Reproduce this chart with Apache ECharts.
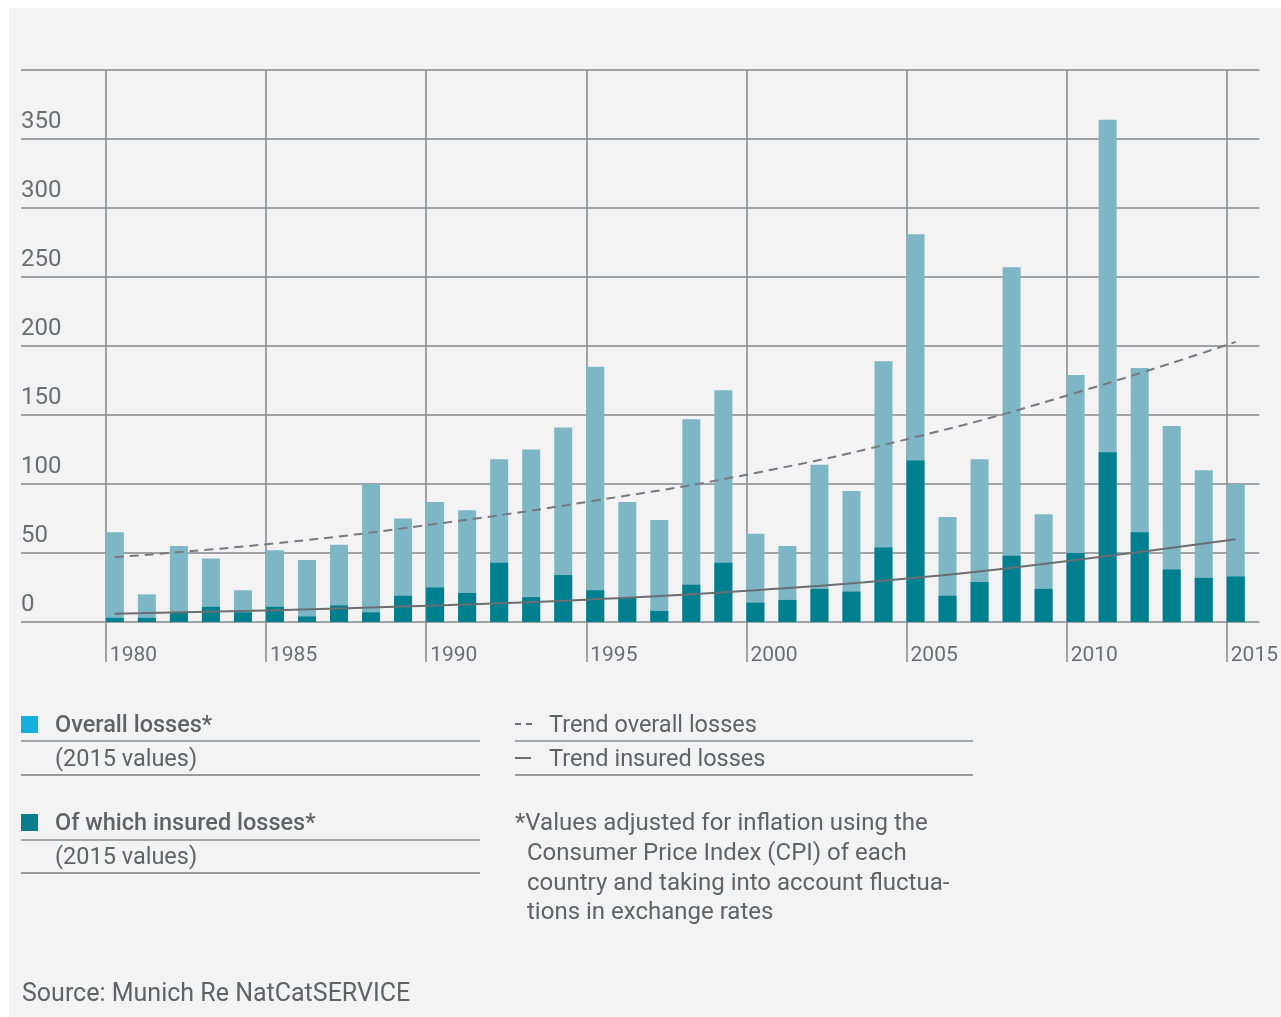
<!DOCTYPE html>
<html>
<head>
<meta charset="utf-8">
<script src="https://cdn.jsdelivr.net/npm/echarts@6/dist/echarts.min.js"></script>
<style>
html,body{margin:0;padding:0;background:#ffffff;width:1281px;height:1017px;overflow:hidden}
#chart{position:absolute;left:9px;top:8px;width:1272px;height:1009px;background:#f3f3f3}
</style>
</head>
<body>
<div id="chart"></div>
<script>
// ---- data, US$ bn ----
const years = [1980,1981,1982,1983,1984,1985,1986,1987,1988,1989,
               1990,1991,1992,1993,1994,1995,1996,1997,1998,1999,
               2000,2001,2002,2003,2004,2005,2006,2007,2008,2009,
               2010,2011,2012,2013,2014,2015];
const overallLosses = [65,20,55,46,23,52,45,56,100,75,
                       87,81,118,125,141,185,87,74,147,168,
                       64,55,114,95,189,281,76,118,257,78,
                       179,364,184,142,110,100];
const insuredLosses = [3,3,7,11,7,11,4,12,7,19,
                       25,21,43,18,34,23,18,8,27,43,
                       14,16,24,22,54,117,19,29,48,24,
                       50,123,65,38,32,33];
const trendYears = [1980,1985,1990,1995,2000,2005,2010,2015];
const trendOverall = [47,57,71,88,108,134,166,203];
const trendInsured = [6,8.5,12,16.5,23,32,45,60];
const yTickValues = [0,50,100,150,200,250,300,350,400];
const xTickYears = [1980,1985,1990,1995,2000,2005,2010,2015];

const legendTexts = {
  overall: 'Overall losses*',
  insured: 'Of which insured losses*',
  values: '(2015 values)',
  trendOverall: 'Trend overall losses',
  trendInsured: 'Trend insured losses',
  note: ['*Values adjusted for inflation using the',
         'Consumer Price Index (CPI) of each',
         'country and taking into account fluctua-',
         'tions in exchange rates'],
  source: 'Source: Munich Re NatCatSERVICE'
};

// ---- styling ----
const FONT = 'Roboto';
const gridColor = '#85888c';
const textColor = '#6b6e72';
const lightBar = '#7db7c5';
const darkBar = '#007f8f';

const chart = echarts.init(document.getElementById('chart'), null, {renderer: 'canvas'});

// axis B (visible years) and bar axis shifted by 0.28 year (bars start at the year line)
const xMinB = 1977.35, xMaxB = 2016.02, shift = 0.28;

function txt(x, y, text, opts) {
  return {
    type: 'text', x: x, y: y, silent: true,
    style: Object.assign({
      text: text, fontFamily: FONT, fontSize: 23.5, fill: '#5f6367',
      verticalAlign: 'middle', align: 'left'
    }, opts || {})
  };
}
function hline(x1, x2, y, color, w) {
  return {type: 'line', silent: true, shape: {x1: x1, y1: y, x2: x2, y2: y},
          style: {stroke: color, lineWidth: w}};
}

const graphics = [
  {type: 'rect', shape: {x: 12, y: 708, width: 17, height: 17}, style: {fill: '#16b0e0'}},
  txt(46, 718, legendTexts.overall, {fontWeight: 500}),
  hline(12, 471, 733, '#a4a7aa', 2),
  txt(46, 752, legendTexts.values),
  hline(12, 471, 767, '#7a7d81', 1.5),
  {type: 'rect', shape: {x: 12, y: 806, width: 17, height: 17}, style: {fill: '#0a7d8c'}},
  txt(46, 816, legendTexts.insured, {fontWeight: 500}),
  hline(12, 471, 832, '#a4a7aa', 2),
  txt(46, 850, legendTexts.values),
  hline(12, 471, 865, '#7a7d81', 1.5),
  hline(506, 512, 716, '#6b6e72', 2),
  hline(517, 523, 716, '#6b6e72', 2),
  txt(540, 718, legendTexts.trendOverall),
  hline(506, 964, 733, '#a4a7aa', 2),
  hline(506, 522, 750, '#6b6e72', 2),
  txt(540, 752, legendTexts.trendInsured),
  hline(506, 964, 767, '#7a7d81', 1.5),
  txt(506, 816, legendTexts.note[0], {fontSize: 24}),
  txt(518, 846, legendTexts.note[1], {fontSize: 24}),
  txt(518, 876, legendTexts.note[2], {fontSize: 24}),
  txt(518, 905, legendTexts.note[3], {fontSize: 24}),
  txt(13, 987, legendTexts.source, {fontSize: 25})
];

const option = {
  animation: false,
  backgroundColor: 'transparent',
  textStyle: {fontFamily: FONT},
  grid: {left: 12, right: 18, top: 62, bottom: 395, containLabel: false},
  xAxis: [
    {
      type: 'value', min: xMinB, max: xMaxB,
      axisLine: {show: false},
      axisTick: {show: true, inside: false, length: 40, customValues: xTickYears,
                 lineStyle: {color: gridColor, width: 1.5}},
      axisLabel: {show: true, customValues: xTickYears, formatter: v => String(v),
                  align: 'left', verticalAlign: 'top', margin: 23, padding: [0, 0, 0, 4],
                  fontSize: 21, lineHeight: 21, color: textColor, fontFamily: FONT},
      splitLine: {show: true, lineStyle: {color: gridColor, width: 1.5}}
    },
    {
      type: 'value', min: xMinB - shift, max: xMaxB - shift, show: false,
      splitLine: {show: false}
    }
  ],
  yAxis: {
    type: 'value', min: 0, max: 400, interval: 50,
    axisLine: {show: false}, axisTick: {show: false},
    axisLabel: {inside: true, margin: 0, align: 'left', verticalAlign: 'bottom',
                padding: [0, 0, 5, 0], fontSize: 24, lineHeight: 24,
                color: textColor, fontFamily: FONT, showMaxLabel: false,
                formatter: v => (v >= 400 ? '' : String(v))},
    splitLine: {show: true, lineStyle: {color: gridColor, width: 1.5}}
  },
  series: [
    {
      name: 'Overall losses', type: 'bar', xAxisIndex: 1, barWidth: 18, barGap: '-100%',
      itemStyle: {color: lightBar},
      data: years.map((y, i) => [y, overallLosses[i]])
    },
    {
      name: 'Of which insured losses', type: 'bar', xAxisIndex: 1, barWidth: 18, barGap: '-100%',
      itemStyle: {color: darkBar},
      data: years.map((y, i) => [y, insuredLosses[i]])
    },
    {
      name: 'Trend overall losses', type: 'line', xAxisIndex: 1, smooth: true, symbol: 'none',
      lineStyle: {color: '#76797d', width: 2, type: [9, 6]}, z: 5,
      data: trendYears.map((y, i) => [y, trendOverall[i]])
    },
    {
      name: 'Trend insured losses', type: 'line', xAxisIndex: 1, smooth: true, symbol: 'none',
      lineStyle: {color: '#6b6e72', width: 2}, z: 5,
      data: trendYears.map((y, i) => [y, trendInsured[i]])
    }
  ],
  graphic: {elements: graphics}
};
chart.setOption(option);
</script>
</body>
</html>
